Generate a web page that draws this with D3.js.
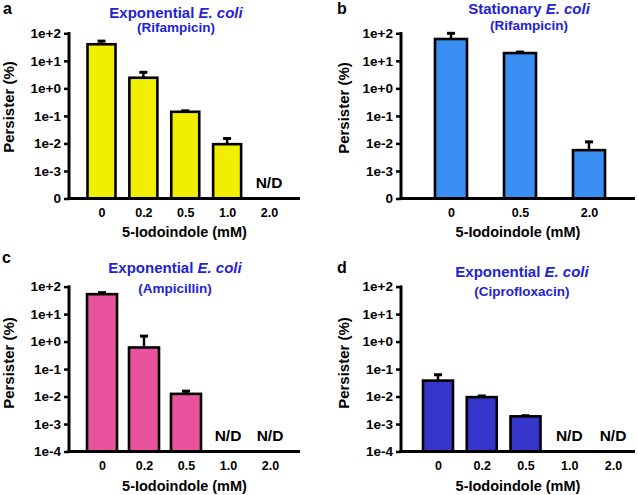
<!DOCTYPE html>
<html>
<head>
<meta charset="utf-8">
<script src="https://cdn.jsdelivr.net/npm/d3@7"></script>
<style>
  html, body { margin: 0; padding: 0; background: #fff; }
  svg { display: block; }
  text { font-family: "Liberation Sans", Arial, sans-serif; font-weight: bold; }
</style>
</head>
<body>
<svg id="chart" width="638" height="495"></svg>
<script>
// ---------- DATA ----------
const tickValues = [1e2, 1e1, 1e0, 1e-1, 1e-2, 1e-3, 1e-4];
const tickLabelsTop = ["1e+2", "1e+1", "1e+0", "1e-1", "1e-2", "1e-3", "0"];
const tickLabelsBottom = ["1e+2", "1e+1", "1e+0", "1e-1", "1e-2", "1e-3", "1e-4"];

const catA = ["0", "0.2", "0.5", "1.0", "2.0"];
const valA = [40, 2.43, 0.141, 0.0094, null];
const sdA  = [12, 1.4, 0.012, 0.0057, null];

const catB = ["0", "0.5", "2.0"];
const valB = [62, 19.2, 0.0057];
const sdB  = [38, 1.7, 0.0057];

const catC = ["0", "0.2", "0.5", "1.0", "2.0"];
const valC = [53, 0.61, 0.0125, null, null];
const sdC  = [7, 0.97, 0.0032, null, null];

const catD = ["0", "0.2", "0.5", "1.0", "2.0"];
const valD = [0.038, 0.0095, 0.0019, null, null];
const sdD  = [0.024, 0.001, 0.0001, null, null];

const titles = ["Exponential", "Stationary", "Exponential", "Exponential"];
const antibiotics = ["(Rifampicin)", "(Rifampicin)", "(Ampicillin)", "(Ciprofloxacin)"];
const panelLetters = ["a", "b", "c", "d"];
const xTitle = "5-Iodoindole (mM)";
const yTitle = "Persister (%)";
const ndLabel = "N/D";

// ---------- LAYOUT ----------
const panels = [
  { letter: panelLetters[0], cats: catA, vals: valA, sds: sdA, title: titles[0], sub: antibiotics[0],
    tickLabels: tickLabelsTop, color: "#f2ee00",
    axisX: 69, axisEnd: 300, yTop: 33.3, yBot: 198.5, pts: [101.5, 269], barW: 28,
    titleX: 176, titleY: 17.5, subY: 32, letterX: 3, letterY: 13.5,
    yTitleX: 9, yTitleY: 107, xLabY: 217, xTitleY: 237 },
  { letter: panelLetters[1], cats: catB, vals: valB, sds: sdB, title: titles[1], sub: antibiotics[1],
    tickLabels: tickLabelsTop, color: "#3a8ff2",
    axisX: 401, axisEnd: 635, yTop: 33.3, yBot: 198.5, pts: [451, 589], barW: 32,
    titleX: 529, titleY: 14, subY: 30, letterX: 337, letterY: 14,
    yTitleX: 344, yTitleY: 108, xLabY: 217, xTitleY: 237 },
  { letter: panelLetters[2], cats: catC, vals: valC, sds: sdC, title: titles[2], sub: antibiotics[2],
    tickLabels: tickLabelsBottom, color: "#e9529c",
    axisX: 69, axisEnd: 300, yTop: 286.6, yBot: 451.5, pts: [102, 270], barW: 30,
    titleX: 175, titleY: 272.5, subY: 293, letterX: 2, letterY: 263,
    yTitleX: 8.5, yTitleY: 363, xLabY: 470, xTitleY: 491 },
  { letter: panelLetters[3], cats: catD, vals: valD, sds: sdD, title: titles[3], sub: antibiotics[3],
    tickLabels: tickLabelsBottom, color: "#3535cc",
    axisX: 401, axisEnd: 635, yTop: 286.6, yBot: 451.5, pts: [438, 613], barW: 30,
    titleX: 522, titleY: 276.5, subY: 296, letterX: 337, letterY: 273,
    yTitleX: 344, yTitleY: 363, xLabY: 470, xTitleY: 491 }
];

const titleColor = "#2323d4";
const svg = d3.select("#chart");

panels.forEach(p => {
  const g = svg.append("g");
  const y = d3.scaleLog().domain([1e-4, 1e2]).range([p.yBot, p.yTop]);
  const x = d3.scalePoint().domain(p.cats).range(p.pts);

  // bars
  p.cats.forEach((c, i) => {
    const v = p.vals[i];
    if (v == null) {
      g.append("text")
        .attr("x", x(c)).attr("y", p.yBot - 11)
        .attr("text-anchor", "middle")
        .attr("font-size", 15.5)
        .attr("fill", "#000")
        .text(ndLabel);
      return;
    }
    const top = y(v);
    const errTop = y(v + p.sds[i]);
    // error bar (upper only)
    g.append("line")
      .attr("x1", x(c)).attr("x2", x(c))
      .attr("y1", top).attr("y2", errTop)
      .attr("stroke", "#000").attr("stroke-width", 2.5);
    g.append("line")
      .attr("x1", x(c) - 4).attr("x2", x(c) + 4)
      .attr("y1", errTop).attr("y2", errTop)
      .attr("stroke", "#000").attr("stroke-width", 3);
    g.append("rect")
      .attr("x", x(c) - p.barW / 2)
      .attr("y", top)
      .attr("width", p.barW)
      .attr("height", p.yBot - top)
      .attr("fill", p.color)
      .attr("stroke", "#000")
      .attr("stroke-width", 2.6);
  });

  // y axis
  const yAxis = d3.axisLeft(y)
    .tickValues(tickValues)
    .tickFormat((d, i) => p.tickLabels[i])
    .tickSize(5)
    .tickPadding(3);
  const ya = g.append("g").attr("transform", `translate(${p.axisX},0)`).call(yAxis);
  ya.select(".domain").remove();
  ya.selectAll(".tick line").attr("stroke", "#000").attr("stroke-width", 2.5);
  ya.selectAll(".tick text")
    .attr("font-size", 13.5)
    .attr("font-family", "Liberation Sans, Arial, sans-serif")
    .attr("font-weight", "bold")
    .attr("fill", "#000");
  g.append("line")
    .attr("x1", p.axisX).attr("x2", p.axisX)
    .attr("y1", p.yTop - 1.2).attr("y2", p.yBot)
    .attr("stroke", "#000").attr("stroke-width", 3);

  // x axis
  const xAxis = d3.axisBottom(x).tickSize(0).tickPadding(0);
  const xa = g.append("g").attr("transform", `translate(0,${p.yBot})`).call(xAxis);
  xa.select(".domain").remove();
  xa.selectAll(".tick text")
    .attr("y", p.xLabY - p.yBot)
    .attr("dy", 0)
    .attr("font-size", 12.5)
    .attr("font-family", "Liberation Sans, Arial, sans-serif")
    .attr("font-weight", "bold")
    .attr("fill", "#000");
  g.append("line")
    .attr("x1", p.axisX - 1.5).attr("x2", p.axisEnd)
    .attr("y1", p.yBot).attr("y2", p.yBot)
    .attr("stroke", "#000").attr("stroke-width", 3);

  // x title
  g.append("text")
    .attr("x", (p.axisX + p.axisEnd) / 2).attr("y", p.xTitleY)
    .attr("text-anchor", "middle").attr("font-size", 14.5)
    .attr("fill", "#000").text(xTitle);

  // y title
  g.append("text")
    .attr("transform", `translate(${p.yTitleX},${p.yTitleY}) rotate(-90)`)
    .attr("dy", "0.35em")
    .attr("text-anchor", "middle").attr("font-size", 15)
    .attr("fill", "#000").text(yTitle);

  // titles
  const t = g.append("text")
    .attr("x", p.titleX).attr("y", p.titleY)
    .attr("text-anchor", "middle").attr("font-size", 15)
    .attr("fill", titleColor);
  t.append("tspan").text(p.title + " ");
  t.append("tspan").attr("font-style", "italic").text("E. coli");

  g.append("text")
    .attr("x", p.titleX).attr("y", p.subY)
    .attr("text-anchor", "middle").attr("font-size", 13.5)
    .attr("fill", titleColor).text(p.sub);

  // panel letter
  g.append("text")
    .attr("x", p.letterX).attr("y", p.letterY)
    .attr("font-size", 16).attr("fill", "#000").text(p.letter);
});
</script>
</body>
</html>
